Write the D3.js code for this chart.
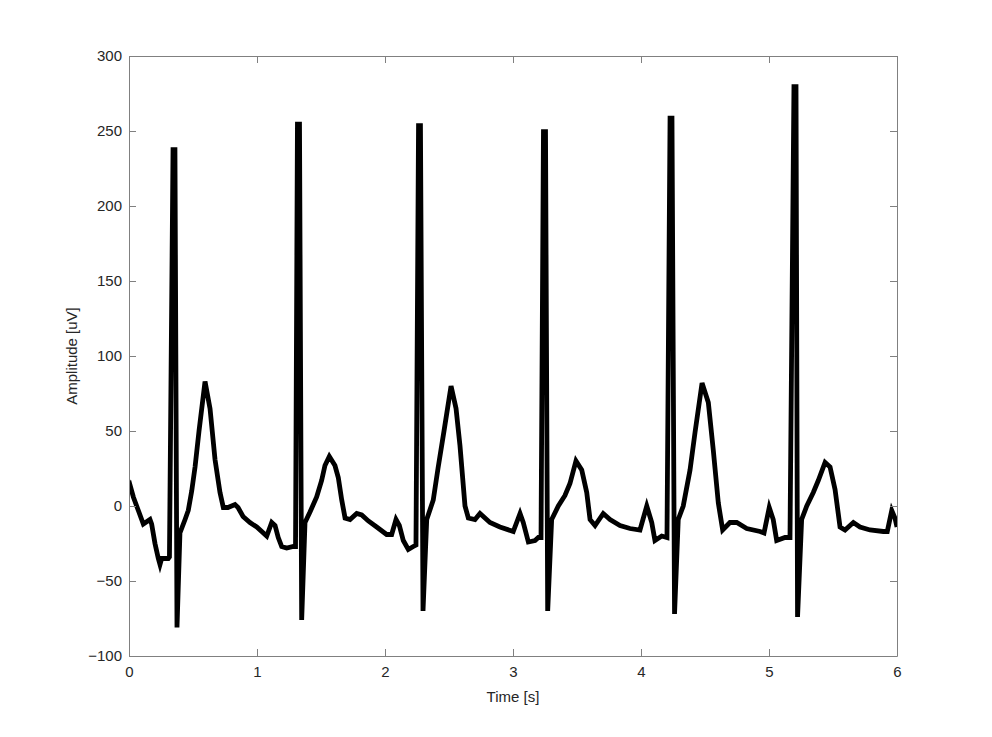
<!DOCTYPE html>
<html>
<head>
<meta charset="utf-8">
<script src="https://cdn.jsdelivr.net/npm/d3@7"></script>
<style>
  html, body { margin: 0; padding: 0; background: #ffffff; }
  svg { display: block; }
  text { font-family: "Liberation Sans", Arial, Helvetica, sans-serif; }
</style>
</head>
<body>
<svg id="chart" width="992" height="737"></svg>
<script>
// ---- data ----
const timeSeconds = [
  0.000, 0.008, 0.034, 0.073, 0.112, 0.164, 0.177, 0.203, 0.229, 0.242, 0.255, 0.307, 0.316,
  0.344, 0.359, 0.375, 0.398, 0.438, 0.463, 0.490, 0.516, 0.547, 0.594, 0.633, 0.672, 0.711,
  0.737, 0.773, 0.828, 0.852, 0.891, 0.945, 0.998, 1.076, 1.115, 1.141, 1.166, 1.193, 1.232,
  1.284, 1.301,
  1.316, 1.332, 1.349, 1.375, 1.414, 1.466, 1.505, 1.531, 1.565, 1.609, 1.635, 1.662, 1.688,
  1.727, 1.779, 1.818, 1.870, 1.935, 2.013, 2.052, 2.086, 2.112, 2.143, 2.182, 2.221, 2.242,
  2.262, 2.277, 2.297, 2.326, 2.377, 2.414, 2.461, 2.516, 2.555, 2.586, 2.625, 2.651, 2.703,
  2.742, 2.820, 2.898, 3.002, 3.055, 3.080, 3.120, 3.172, 3.198, 3.219,
  3.238, 3.254, 3.271, 3.302, 3.354, 3.406, 3.445, 3.492, 3.537, 3.576, 3.602, 3.641, 3.705,
  3.758, 3.836, 3.914, 3.992, 4.045, 4.084, 4.109, 4.162, 4.203,
  4.227, 4.242, 4.262, 4.291, 4.330, 4.383, 4.422, 4.477, 4.526, 4.565, 4.604, 4.638, 4.695,
  4.748, 4.826, 4.930, 4.961, 5.002, 5.033, 5.060, 5.125, 5.164,
  5.195, 5.211, 5.223, 5.255, 5.295, 5.346, 5.385, 5.438, 5.477, 5.516, 5.555, 5.594, 5.659,
  5.711, 5.789, 5.893, 5.924, 5.959, 5.984, 6.000
];
const amplitudeUV = [
  13, 14, 6, -3, -12, -9, -12, -25, -35, -39, -35, -35, -34,
  237.5, 237.5, -81, -18, -9, -3, 10, 26, 50, 83, 65, 31, 9,
  -1, -1, 1, -1, -7, -11, -14, -20, -11, -13, -21, -27, -28,
  -27, -27,
  254.5, 254.5, -76, -11, -4, 6, 17, 27, 33, 27, 19, 4, -8,
  -9, -5, -6, -10, -14, -19, -19, -9, -13, -23, -29, -27, -26,
  253.5, 253.5, -70, -9, 4, 25, 50, 80, 65, 40, 0, -8, -9,
  -5, -11, -14, -17, -5, -11, -24, -23, -21, -21,
  249.5, 249.5, -70, -9, 0, 7, 15, 30, 24, 9, -9, -13, -5,
  -9, -13, -15, -16, 0, -11, -23, -20, -21,
  258.5, 258.5, -72, -9, 0, 24, 49, 82, 69, 37, 2, -16, -11,
  -11, -15, -17, -18, -1, -9, -23, -21, -21,
  279.5, 279.5, -74, -9, 0, 9, 17, 29, 26, 11, -14, -16, -11,
  -14, -16, -17, -17, -3, -8, -14
];
const xTicks = [0, 1, 2, 3, 4, 5, 6];
const yTicks = [-100, -50, 0, 50, 100, 150, 200, 250, 300];
const xLabel = "Time [s]";
const yLabel = "Amplitude [uV]";

// ---- layout ----
const svg = d3.select("#chart");
const mLeft = 129, mTop = 56, mRight = 897, mBottom = 656;
const x = d3.scaleLinear().domain([0, 6]).range([mLeft, mRight]);
const y = d3.scaleLinear().domain([-100, 300]).range([mBottom, mTop]);
const axisColor = "#808080";
const textColor = "#262626";
const tickLen = 7;

const data = timeSeconds.map((t, i) => ({ t, v: amplitudeUV[i] }));

svg.append("clipPath").attr("id", "clip")
  .append("rect").attr("x", mLeft).attr("y", mTop)
  .attr("width", mRight - mLeft).attr("height", mBottom - mTop);

svg.append("path")
  .datum(data)
  .attr("clip-path", "url(#clip)")
  .attr("fill", "none")
  .attr("stroke", "#000")
  .attr("stroke-width", 4.8)
  .attr("stroke-linejoin", "miter")
  .attr("d", d3.line().x(d => x(d.t)).y(d => y(d.v)));

function styleAxis(g) {
  g.select(".domain").attr("stroke", axisColor).attr("stroke-width", 1);
  g.selectAll(".tick line").attr("stroke", axisColor).attr("stroke-width", 1);
  g.selectAll(".tick text").attr("fill", textColor).attr("font-size", 15)
    .attr("font-family", "'Liberation Sans', Arial, Helvetica, sans-serif");
}

svg.append("g")
  .attr("transform", `translate(0,${mBottom})`)
  .call(d3.axisBottom(x).tickValues(xTicks).tickFormat(d3.format("d"))
        .tickSizeInner(-tickLen).tickSizeOuter(0).tickPadding(10))
  .call(styleAxis);

svg.append("g")
  .attr("transform", `translate(${mLeft},0)`)
  .call(d3.axisLeft(y).tickValues(yTicks).tickFormat(d3.format("d"))
        .tickSizeInner(-tickLen).tickSizeOuter(0).tickPadding(7))
  .call(styleAxis);

svg.append("g")
  .attr("transform", `translate(0,${mTop})`)
  .call(d3.axisTop(x).tickValues(xTicks).tickFormat("")
        .tickSizeInner(-tickLen).tickSizeOuter(0))
  .call(styleAxis);

svg.append("g")
  .attr("transform", `translate(${mRight},0)`)
  .call(d3.axisRight(y).tickValues(yTicks).tickFormat("")
        .tickSizeInner(-tickLen).tickSizeOuter(0))
  .call(styleAxis);

svg.append("text")
  .attr("x", (mLeft + mRight) / 2)
  .attr("y", 702)
  .attr("text-anchor", "middle")
  .attr("fill", textColor)
  .attr("font-size", 15)
  .text(xLabel);

svg.append("text")
  .attr("transform", `translate(77,${(mTop + mBottom) / 2}) rotate(-90)`)
  .attr("text-anchor", "middle")
  .attr("fill", textColor)
  .attr("font-size", 15)
  .text(yLabel);
</script>
</body>
</html>
